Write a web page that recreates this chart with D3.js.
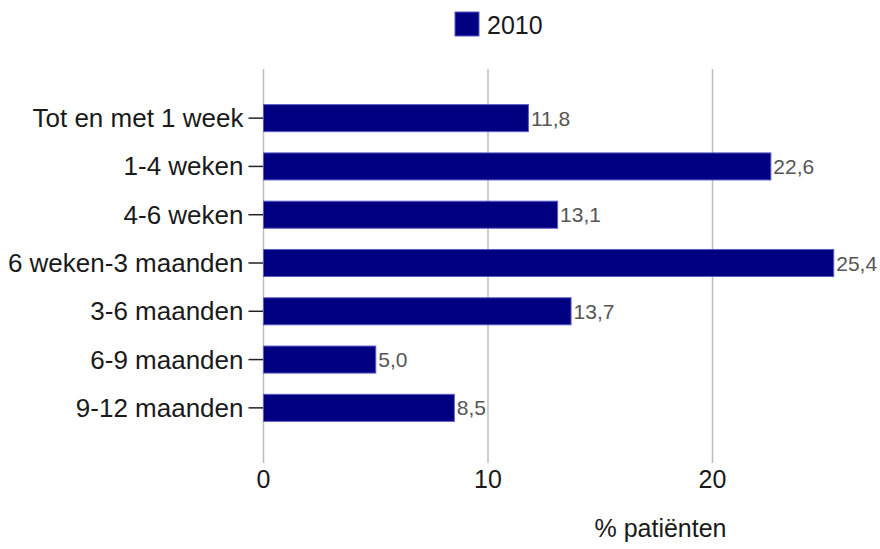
<!DOCTYPE html>
<html>
<head>
<meta charset="utf-8">
<script src="https://cdn.jsdelivr.net/npm/d3@7"></script>
<style>
  html, body { margin: 0; padding: 0; background: #fff; }
  svg { display: block; font-family: "Liberation Sans", Arial, sans-serif; }
</style>
</head>
<body>
<svg id="chart" width="880" height="549"></svg>
<script>
// Duration categories and share of patients (%) for 2010
const categories = [
  "Tot en met 1 week",
  "1-4 weken",
  "4-6 weken",
  "6 weken-3 maanden",
  "3-6 maanden",
  "6-9 maanden",
  "9-12 maanden"
];
const values2010 = [11.8, 22.6, 13.1, 25.4, 13.7, 5.0, 8.5];
const seriesName = "2010";
const xTickValues = [0, 10, 20];
const xTitle = "% patiënten";

const svg = d3.select("#chart");
const navy = "#000080";
const fmt = v => v.toFixed(1).replace(".", ",");

const x = d3.scaleLinear().domain([0, 27]).range([263.5, 263.5 + 27 * 22.45]);
const y = d3.scaleBand().domain(categories).range([94, 432])
  .paddingInner(0.44).paddingOuter(0.22);

// vertical gridlines (extend slightly below the plot as tick marks)
svg.append("g")
  .selectAll("line")
  .data(xTickValues)
  .join("line")
  .attr("x1", d => x(d)).attr("x2", d => x(d))
  .attr("y1", 69).attr("y2", 463)
  .attr("stroke", "#bdbdbd")
  .attr("stroke-width", 1.5);

// x tick labels
svg.append("g")
  .selectAll("text")
  .data(xTickValues)
  .join("text")
  .attr("x", d => x(d))
  .attr("y", 479)
  .attr("text-anchor", "middle")
  .attr("dominant-baseline", "central")
  .attr("font-size", 25)
  .attr("fill", "#1a1a1a")
  .text(d => d);

// x axis title
svg.append("text")
  .attr("x", 660.5)
  .attr("y", 537)
  .attr("text-anchor", "middle")
  .attr("font-size", 25)
  .attr("fill", "#1a1a1a")
  .text(xTitle);

// category ticks and labels
const cat = svg.append("g")
  .selectAll("g")
  .data(categories)
  .join("g")
  .attr("transform", d => `translate(0,${y(d) + y.bandwidth() / 2})`);
cat.append("line")
  .attr("x1", x(0) - 15).attr("x2", x(0))
  .attr("stroke", "#222").attr("stroke-width", 1.5);
cat.append("text")
  .attr("x", x(0) - 20)
  .attr("text-anchor", "end")
  .attr("dominant-baseline", "central")
  .attr("font-size", 26)
  .attr("fill", "#1a1a1a")
  .text(d => d);

// bars
const data = categories.map((c, i) => ({ c, v: values2010[i] }));
svg.append("g")
  .selectAll("rect")
  .data(data)
  .join("rect")
  .attr("x", x(0))
  .attr("y", d => y(d.c))
  .attr("width", d => x(d.v) - x(0))
  .attr("height", y.bandwidth())
  .attr("fill", navy)
  .attr("stroke", "#5a5ac8")
  .attr("stroke-width", 1);

// value labels
svg.append("g")
  .selectAll("text")
  .data(data)
  .join("text")
  .attr("x", d => x(d.v) + 2.5)
  .attr("y", d => y(d.c) + y.bandwidth() / 2)
  .attr("dominant-baseline", "central")
  .attr("font-size", 21)
  .attr("fill", "#555")
  .text(d => fmt(d.v));

// legend
svg.append("rect")
  .attr("x", 455).attr("y", 12)
  .attr("width", 24).attr("height", 24)
  .attr("fill", navy)
  .attr("stroke", "#5a5ac8").attr("stroke-width", 1);
svg.append("text")
  .attr("x", 487).attr("y", 24.5)
  .attr("dominant-baseline", "central")
  .attr("font-size", 25)
  .attr("fill", "#1a1a1a")
  .text(seriesName);
</script>
</body>
</html>
